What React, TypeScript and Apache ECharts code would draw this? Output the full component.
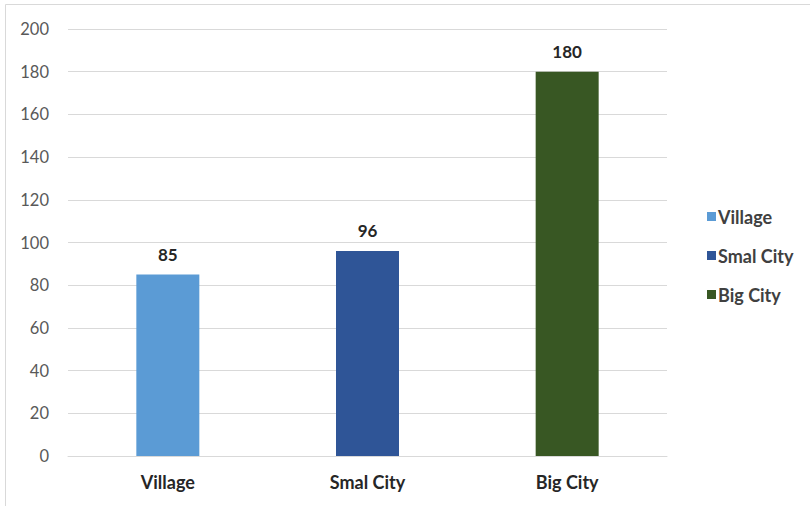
import React, { useEffect, useRef } from "react";
import * as echarts from "echarts";

const categories = ["Village", "Smal City", "Big City"];
const seriesNames = ["Village", "Smal City", "Big City"];
const values = [85, 96, 180];
const colors = ["#5B9BD5", "#2F5597", "#385723"];
const yTicks = { min: 0, max: 200, interval: 20 };

const FONT = "Lato, 'Open Sans', sans-serif";

export default function App() {
  const ref = useRef<HTMLDivElement>(null);

  useEffect(() => {
    if (!ref.current) return;
    const chart = echarts.init(ref.current, null, { renderer: "svg" });

    // one series per category so each gets its own legend entry;
    // a shared stack keeps each bar centred on its category
    const series = seriesNames.map((name, i) => ({
      name,
      type: "bar",
      stack: "all",
      barWidth: 63,
      data: categories.map((_, j) => (j === i ? values[i] : "-")),
      itemStyle: { color: colors[i] },
      label: {
        show: true,
        position: "top",
        distance: 12,
        fontFamily: FONT,
        fontSize: 17,
        fontWeight: "bold",
        color: "#262626",
      },
    }));

    chart.setOption({
      animation: false,
      textStyle: { fontFamily: FONT },
      graphic: [
        {
          type: "rect",
          shape: { x: 5.5, y: 4.5, width: 820, height: 520 },
          style: { fill: "none", stroke: "#d9d9d9", lineWidth: 1 },
          silent: true,
        },
      ],
      grid: { left: 68, right: 143, top: 29, bottom: 50, containLabel: false },
      legend: {
        orient: "vertical",
        left: 702,
        top: 202,
        itemWidth: 9,
        itemHeight: 9,
        itemGap: 20,
        icon: "rect",
        data: seriesNames,
        textStyle: {
          fontFamily: FONT,
          fontSize: 18,
          fontWeight: "bold",
          color: "#404040",
          lineHeight: 19,
          padding: [0, 0, 0, -3],
        },
      },
      xAxis: {
        type: "category",
        data: categories,
        axisLine: { lineStyle: { color: "#d9d9d9", width: 1 } },
        axisTick: { show: false },
        axisLabel: {
          margin: 17,
          fontFamily: FONT,
          fontSize: 18,
          fontWeight: "bold",
          color: "#262626",
        },
      },
      yAxis: {
        type: "value",
        min: yTicks.min,
        max: yTicks.max,
        interval: yTicks.interval,
        axisLine: { show: false },
        axisTick: { show: false },
        splitLine: { lineStyle: { color: "#d9d9d9", width: 1 } },
        axisLabel: {
          margin: 19,
          fontFamily: FONT,
          fontSize: 16.5,
          color: "#595959",
        },
      },
      series,
    });

    return () => chart.dispose();
  }, []);

  return (
    <div
      ref={ref}
      style={{ position: "fixed", left: 0, top: 0, width: 810, height: 506, background: "#fff" }}
    />
  );
}
